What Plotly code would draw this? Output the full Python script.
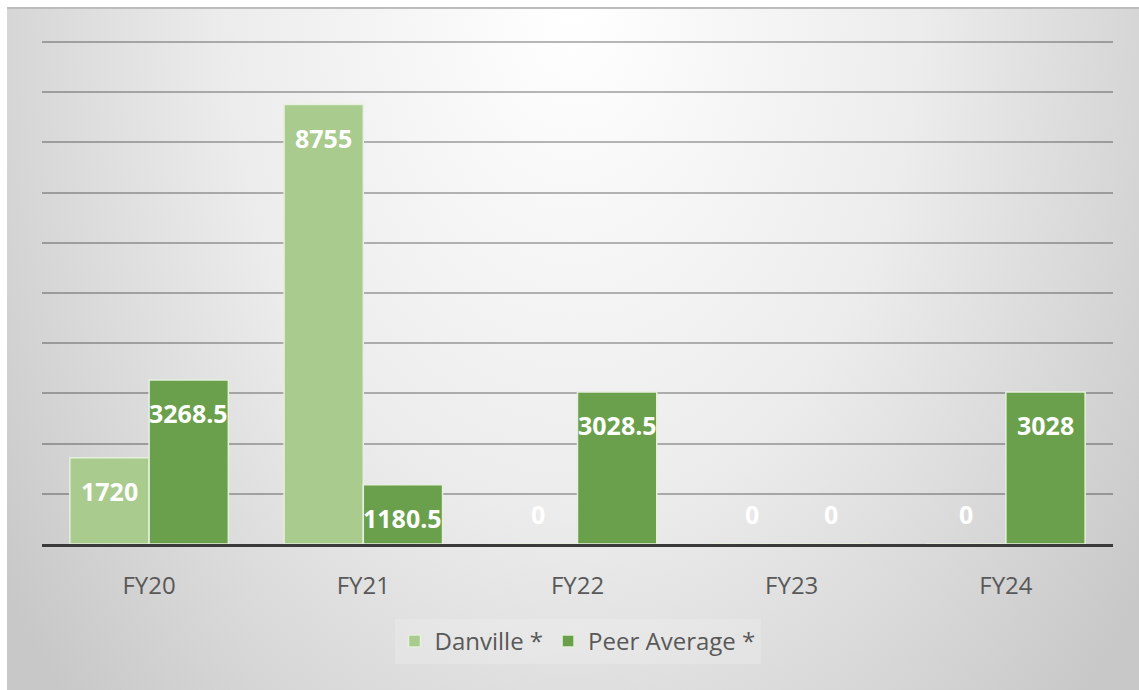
import base64
import plotly.graph_objects as go

categories = ["FY20", "FY21", "FY22", "FY23", "FY24"]
danville = [1720, 8755, 0, 0, 0]
peer_avg = [3268.5, 1180.5, 3028.5, 0, 3028]
danville_labels = ["1720", "8755", "0", "0", "0"]
peer_labels = ["3268.5", "1180.5", "3028.5", "0", "3028"]

W, H = 1139, 690
ML, MR, MT, MB = 42, 26, 37, 146
plot_w = W - ML - MR
plot_h = H - MT - MB
Y_MAX = 10100

# background gradient as an SVG image
svg = '''<svg xmlns="http://www.w3.org/2000/svg" width="1132" height="683" viewBox="0 0 1132 683" preserveAspectRatio="none">
<defs><radialGradient id="g" gradientUnits="userSpaceOnUse" cx="566" cy="0" r="1"
 gradientTransform="translate(566 0) scale(700 1000) translate(-566 0)">
<stop offset="0" stop-color="#ffffff"/><stop offset="0.5" stop-color="#ececec"/><stop offset="1" stop-color="#c8c8c8"/>
</radialGradient></defs>
<rect x="0" y="0" width="1132" height="683" fill="url(#g)"/>
<line x1="0" y1="1" x2="1132" y2="1" stroke="#bdbdbd" stroke-width="2"/>
</svg>'''
src = "data:image/svg+xml;base64," + base64.b64encode(svg.encode()).decode()

bg_x0, bg_y0 = 7, 7
img = dict(
    source=src, xref="paper", yref="paper",
    x=(bg_x0 - ML) / plot_w, y=(H - MB - bg_y0) / plot_h,
    sizex=(W - bg_x0) / plot_w, sizey=(H - bg_y0) / plot_h,
    xanchor="left", yanchor="top", sizing="stretch", layer="below",
)

light = "#a9cb8e"
dark = "#6a9f4b"
edge = "#e4f0dc"

fig = go.Figure()
fig.add_trace(go.Bar(name="Danville *", x=categories, y=danville,
                     marker=dict(color=light, line=dict(color=edge, width=1.5))))
fig.add_trace(go.Bar(name="Peer Average *", x=categories, y=peer_avg,
                     marker=dict(color=dark, line=dict(color=edge, width=1.5))))

bargap = 0.26
bar_w = plot_w / len(categories) * (1 - bargap) / 2
annotations = []
for series, labels, sgn in ((danville, danville_labels, -1), (peer_avg, peer_labels, 1)):
    for c, v, t in zip(categories, series, labels):
        annotations.append(dict(
            x=c, y=v, xref="x", yref="y", text=t, showarrow=False,
            xshift=sgn * bar_w / 2, yshift=(-33 if v > 0 else 30), yanchor="middle",
            font=dict(family="Open Sans", size=25, color="white", weight="bold"),
        ))

fig.update_layout(
    width=W, height=H,
    margin=dict(l=ML, r=MR, t=MT, b=MB, autoexpand=False),
    paper_bgcolor="white", plot_bgcolor="rgba(0,0,0,0)",
    barmode="group", bargap=bargap, bargroupgap=0,
    images=[img],
    annotations=annotations,
    font=dict(family="Open Sans", color="#595959"),
    showlegend=True,
    legend=dict(orientation="h", x=0.5, xanchor="center", y=(H - MB - 619) / plot_h, yanchor="top",
                bgcolor="rgba(255,255,255,0.18)", font=dict(size=24, color="#595959"),
                itemwidth=30, traceorder="normal"),
)
fig.update_xaxes(
    showline=True, linecolor="#3a3a3a", linewidth=3,
    ticks="outside", ticklen=18, tickcolor="rgba(0,0,0,0)",
    tickfont=dict(size=24, color="#595959"),
    showgrid=False,
)
fig.update_yaxes(
    range=[0, Y_MAX], dtick=1000, showticklabels=False,
    showgrid=True, gridcolor="rgba(0,0,0,0.28)", gridwidth=2,
    zeroline=False,
)
fig.write_html("out.html", config={"displayModeBar": False},
               post_script="document.body.style.margin='0';document.body.style.padding='0';")
